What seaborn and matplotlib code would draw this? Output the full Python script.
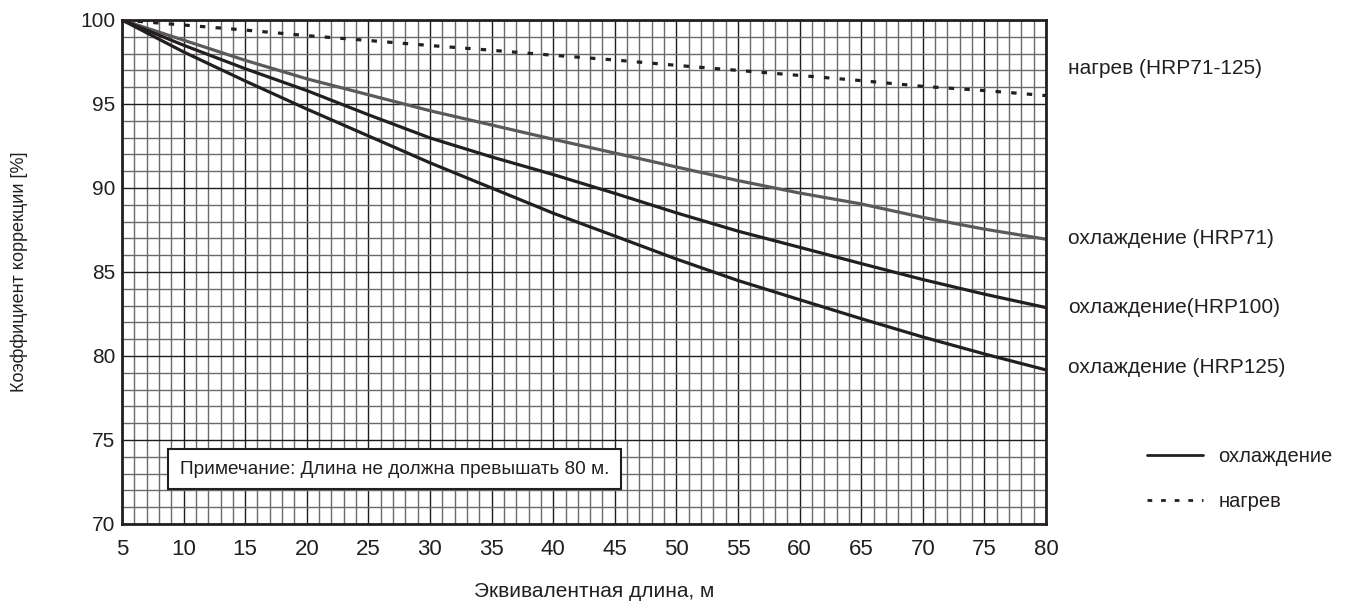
import numpy as np
import pandas as pd
import matplotlib
matplotlib.use('Agg')
import matplotlib.pyplot as plt
from matplotlib.lines import Line2D
from matplotlib.ticker import MultipleLocator
import seaborn as sns

# ── Data ──────────────────────────────────────────────
length = [5, 10, 15, 20, 25, 30, 35, 40, 45, 50, 55, 60, 65, 70, 75, 80]

heat_all = [100, 99.7, 99.4, 99.07, 98.78, 98.48, 98.2, 97.9,
            97.62, 97.3, 97.0, 96.7, 96.39, 96.05, 95.8, 95.5]
cool_71 = [100, 98.8, 97.6, 96.5, 95.55, 94.6, 93.75, 92.9,
           92.08, 91.25, 90.44, 89.7, 89.05, 88.25, 87.55, 86.95]
cool_100 = [100, 98.5, 97.1, 95.8, 94.36, 92.98, 91.85, 90.8,
            89.68, 88.52, 87.43, 86.47, 85.5, 84.55, 83.68, 82.88]
cool_125 = [100, 98.1, 96.37, 94.7, 93.1, 91.5, 90.0, 88.5,
            87.14, 85.77, 84.49, 83.35, 82.22, 81.13, 80.12, 79.17]

series_names = ['нагрев (HRP71-125)', 'охлаждение (HRP71)',
                'охлаждение(HRP100)', 'охлаждение (HRP125)']
series_mode = ['нагрев', 'охлаждение', 'охлаждение', 'охлаждение']
series_vals = [heat_all, cool_71, cool_100, cool_125]

x_ticks = list(range(5, 81, 5))
y_ticks = list(range(70, 101, 5))

note = 'Примечание: Длина не должна превышать 80 м.'

rows = []
for name, mode, vals in zip(series_names, series_mode, series_vals):
    for x, v in zip(length, vals):
        rows.append({'length': x, 'factor': v, 'series': name, 'mode': mode})
df = pd.DataFrame(rows)

# ── Style ─────────────────────────────────────────────
sns.set_style('white')
plt.rcParams['font.family'] = ['Liberation Sans', 'DejaVu Sans']

ink = '#231f20'
palette = {series_names[0]: ink, series_names[1]: '#5a5a5a',
           series_names[2]: ink, series_names[3]: ink}

fig = plt.figure(figsize=(13.52, 6.04), dpi=100)
ax = fig.add_axes([0.0902, 0.1325, 0.6835, 0.8344])

sns.lineplot(data=df, x='length', y='factor', hue='series', style='mode',
             palette=palette,
             dashes={'охлаждение': '', 'нагрев': (1.7, 3.2)},
             linewidth=2.3, legend=False, ax=ax)

ax.set_xlim(5, 80)
ax.set_ylim(70, 100)
ax.xaxis.set_minor_locator(MultipleLocator(1))
ax.yaxis.set_minor_locator(MultipleLocator(1))
ax.set_xticks(x_ticks)
ax.set_yticks(y_ticks)
ax.grid(which='major', color='#1e1e1e', linewidth=1.0)
ax.grid(which='minor', color='#6a6a6a', linewidth=1.0)
ax.set_axisbelow(True)
ax.tick_params(which='both', length=0)
ax.tick_params(axis='x', labelsize=16, pad=11, colors=ink)
ax.tick_params(axis='y', labelsize=15, pad=5, colors=ink)

for s in ax.spines.values():
    s.set_visible(True)
    s.set_color(ink)
    s.set_linewidth(2)

ax.set_xlabel('Эквивалентная длина, м', fontsize=15, color=ink)
ax.xaxis.set_label_coords(0.511, -0.116)
ax.set_ylabel('Коэффициент коррекции [%]', fontsize=13, color=ink, labelpad=37)

# ── Curve labels on the right ─────────────────────────
label_y = [97.1, 87.0, 82.9, 79.3]
for name, yy in zip(series_names, label_y):
    ax.text(81.8, yy, name, fontsize=15, color=ink, va='center', ha='left',
            clip_on=False)

# ── Note box ──────────────────────────────────────────
ax.text(9.7, 73.25, note, fontsize=13.7, color=ink, va='center', ha='left',
        zorder=5,
        bbox=dict(boxstyle='square,pad=0.6', fc='white', ec=ink, lw=1.5))

# ── Legend ────────────────────────────────────────────
handles = [Line2D([], [], color=ink, lw=2.0),
           Line2D([], [], color=ink, lw=2.0, ls=(0, (1.7, 3.2)))]
fig.legend(handles, ['охлаждение', 'нагрев'], loc='center left',
           bbox_to_anchor=(0.835, 0.207), frameon=False, fontsize=14.5,
           handlelength=2.8, handletextpad=0.75, labelspacing=1.25,
           labelcolor=ink)

plt.savefig('out.png', dpi=100)
